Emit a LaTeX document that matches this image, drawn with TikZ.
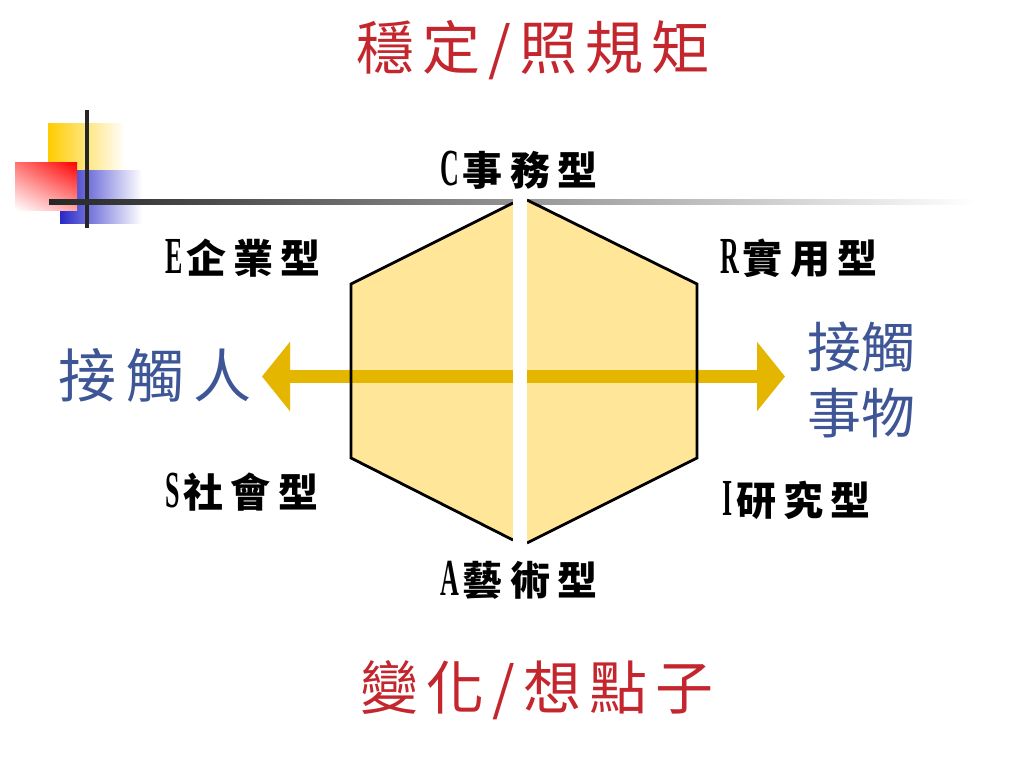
\documentclass[tikz,border=0pt]{standalone}
\usepackage{fontspec}
\setmainfont{Liberation Serif}
\newfontfamily\cjktitle[LetterSpace=14]{Noto Sans CJK TC}
\newfontfamily\cjkside[LetterSpace=17]{Noto Sans CJK TC}
\newfontfamily\cjkpair{Noto Sans CJK TC}
\newfontfamily\cjklab[LetterSpace=18]{Noto Sans CJK TC}
\newfontfamily\latinlab[FakeStretch=0.5]{Liberation Serif}
\usetikzlibrary{arrows.meta,shadings}

\newcommand{\typelabel}[2]{{\latinlab\bfseries\fontsize{52}{52}\selectfont #1}\hspace{4pt}{\cjklab\bfseries\fontsize{40}{40}\selectfont #2}}

\begin{document}
\begin{tikzpicture}[x=1pt,y=-1pt]

  \definecolor{titlecol}{RGB}{196,38,46}
  \definecolor{sidecol}{RGB}{63,86,150}
  \definecolor{hexcol}{RGB}{255,230,153}
  \definecolor{arrowcol}{RGB}{228,182,0}

  \tikzset{
    title/.style={anchor=west,inner sep=0pt,text=titlecol,font=\cjktitle\fontsize{58}{58}\selectfont},
    side/.style={anchor=west,inner sep=0pt,text=sidecol},
    typebox/.style={anchor=west,inner sep=0pt}
  }

  \useasboundingbox[fill=white] (0,0) rectangle (1024,768);

  % corner squares
  \shade[left color={rgb,255:red,255;green,204;blue,0},right color=white] (48,123) rectangle (125,170);
  \shade[left color={rgb,255:red,40;green,40;blue,200},right color=white] (60,170) rectangle (142,223);
  \shade[upper left=red!55!white,upper right=red,lower left=white,lower right=red!35!white] (15,162) rectangle (77,210);
  \draw[line width=4pt,black!85] (87,110) -- (87,228);

  % rule under the title
  \shade[left color=black!85,middle color=black!55,right color=white] (49,199) rectangle (975,204);

  % hexagon, two halves
  \fill[hexcol] (513,203) -- (351,284) -- (351,458) -- (513,540) -- cycle;
  \fill[hexcol] (527,200) -- (697,284) -- (697,458) -- (527,543) -- cycle;

  % arrow
  \coordinate (lefttip) at (262,376.5);
  \coordinate (righttip) at (785,376.5);
  \draw[arrowcol,line width=13pt,{Triangle[length=28pt,width=68pt]}-{Triangle[length=28pt,width=68pt]}]
  (lefttip) -- (righttip);

  \draw[line width=2.8pt,line join=miter] (513,203) -- (351,284) -- (351,458) -- (513,540);
  \draw[line width=2.8pt,line join=miter] (527,200) -- (697,284) -- (697,458) -- (527,543);

  % gap between the halves
  \fill[white] (513,192) rectangle (527,552);

  % texts
  \node[title] (stable) at (356,50) {穩定/照規矩};
  \node[title] (change) at (360,690) {變化/想點子};

  \node[side,font=\cjkside\fontsize{58}{58}\selectfont] (people) at (58,375) {接觸人};
  \node[side,align=left,font=\cjkpair\fontsize{54}{66}\selectfont] (things) at (807,380) {接觸\\事物};

  \node[typebox] (ctype) at (440,170) {\typelabel{C}{事務型}};
  \node[typebox] (etype) at (165,258) {\typelabel{E}{企業型}};
  \node[typebox] (rtype) at (720,258) {\typelabel{R}{實用型}};
  \node[typebox] (stype) at (165,492) {\typelabel{S}{社會型}};
  \node[typebox] (itype) at (722,500) {\typelabel{I}{研究型}};
  \node[typebox] (atype) at (440,580) {\typelabel{A}{藝術型}};

\end{tikzpicture}
\end{document}
